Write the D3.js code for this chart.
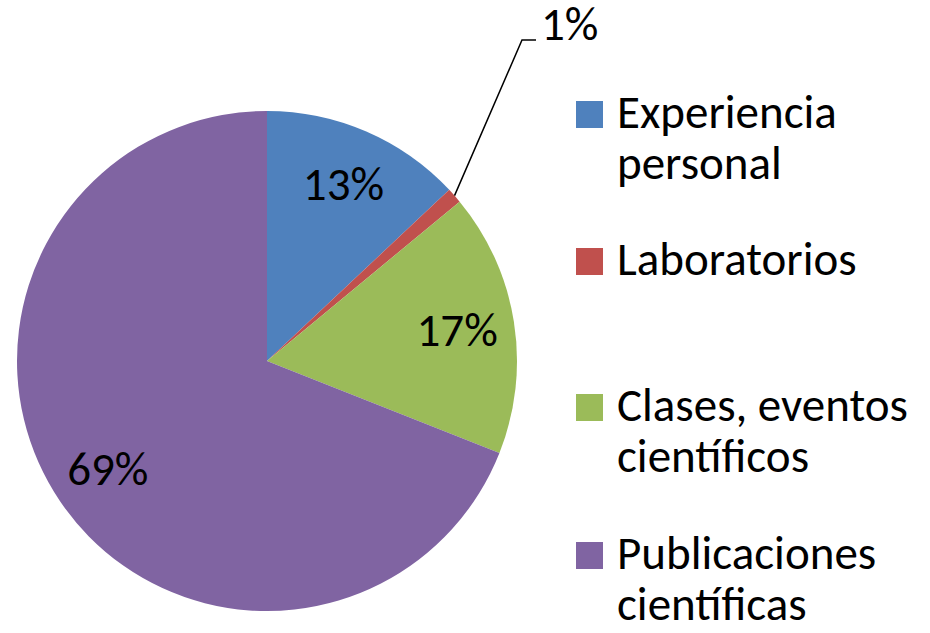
<!DOCTYPE html>
<html>
<head>
<meta charset="utf-8">
<script src="https://cdn.jsdelivr.net/npm/d3@7"></script>
<style>
  body { margin: 0; background: #fff; }
  text { font-family: Carlito, "Open Sans", "Noto Sans", sans-serif; fill: #000; }
</style>
</head>
<body>
<div id="vis"></div>
<script>
// chart data
const categories = ["Experiencia personal", "Laboratorios", "Clases, eventos científicos", "Publicaciones científicas"];
const values = [13, 1, 17, 69];
const labels = ["13%", "1%", "17%", "69%"];
const legendLines = [["Experiencia", "personal"], ["Laboratorios"], ["Clases, eventos", "científicos"], ["Publicaciones", "científicas"]];
const colors = ["#4F81BD", "#C0504D", "#9BBB59", "#8064A2"];

let width = 930, height = 633;
let cx = 267, cy = 361, radius = 250;
let fontSize = '47px';

let svg = d3.select('#vis')
  .append('svg')
  .attr('width', width)
  .attr('height', height);

let g = svg.append('g').attr('transform', `translate(${cx},${cy})`);

const pie = d3.pie().sort(null).value(d => d);
const arcs = pie(values);
const arc = d3.arc().innerRadius(0).outerRadius(radius);
const labelArc = d3.arc().innerRadius(radius * 0.77).outerRadius(radius * 0.77);

// slices
g.selectAll('path.slice')
  .data(arcs)
  .enter()
  .append('path')
    .attr('class', 'slice')
    .attr('d', arc)
    .attr('fill', (d, i) => colors[i]);

// labels inside (skip the tiny one)
g.selectAll('text.pct')
  .data(arcs.filter((d, i) => i !== 1))
  .enter()
  .append('text')
    .attr('class', 'pct')
    .attr('x', d => labelArc.centroid(d)[0])
    .attr('y', d => labelArc.centroid(d)[1])
    .attr('dy', '0.33em')
    .attr('text-anchor', 'middle')
    .style('font-size', fontSize)
    .text(d => labels[d.index]);

// leader line for the small slice
let small = arcs[1];
let mid = (small.startAngle + small.endAngle) / 2;
let p0 = [radius * Math.sin(mid), -radius * Math.cos(mid)];
let elbow = [255, -321];
let p2 = [elbow[0] + 14, elbow[1]];
g.append('polyline')
  .attr('points', [p0, elbow, p2].map(p => p.join(',')).join(' '))
  .attr('fill', 'none')
  .attr('stroke', '#000')
  .attr('stroke-width', 1.5);
g.append('text')
  .attr('x', p2[0] + 5)
  .attr('y', p2[1])
  .style('font-size', fontSize)
  .text(labels[1]);

// legend
const legendY = [128, 275, 421, 569];
let legend = svg.append('g');
legendLines.forEach(function(lines, i) {
  legend.append('rect')
    .attr('x', 576)
    .attr('y', legendY[i] - 27)
    .attr('width', 27)
    .attr('height', 27)
    .attr('fill', colors[i]);
  lines.forEach(function(t, j) {
    legend.append('text')
      .attr('x', 617)
      .attr('y', legendY[i] + j * 51)
      .style('font-size', fontSize)
      .text(t);
  });
});
</script>
</body>
</html>
